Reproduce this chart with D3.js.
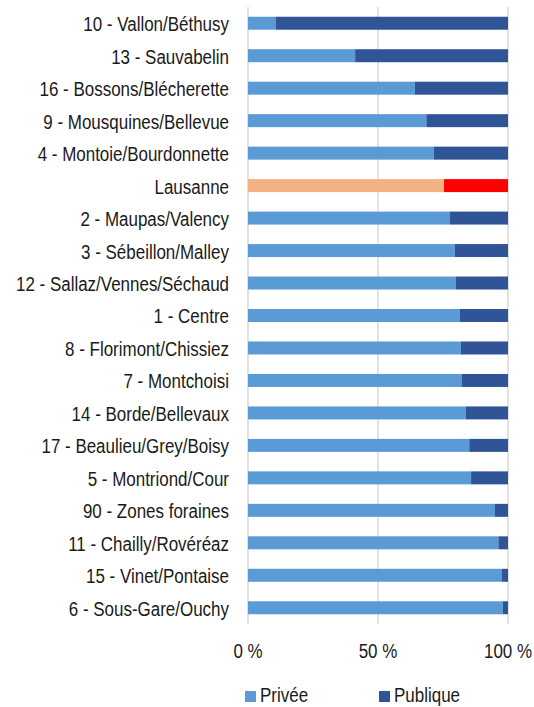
<!DOCTYPE html>
<meta charset="utf-8">
<style>
body { margin: 0; background: #fff; }
text { font-family: "Liberation Sans", Arial, sans-serif; fill: #1a1a1a; font-size: 19.5px; }
</style>
<svg width="534" height="707"></svg>
<script src="https://d3js.org/d3.v7.min.js"></script>
<script>

// quartiers, sorted by share of private parking (order as shown)
var quartiers = [
  "10 - Vallon/Béthusy", "13 - Sauvabelin", "16 - Bossons/Blécherette",
  "9 - Mousquines/Bellevue", "4 - Montoie/Bourdonnette", "Lausanne",
  "2 - Maupas/Valency", "3 - Sébeillon/Malley", "12 - Sallaz/Vennes/Séchaud",
  "1 - Centre", "8 - Florimont/Chissiez", "7 - Montchoisi",
  "14 - Borde/Bellevaux", "17 - Beaulieu/Grey/Boisy", "5 - Montriond/Cour",
  "90 - Zones foraines", "11 - Chailly/Rovéréaz", "15 - Vinet/Pontaise",
  "6 - Sous-Gare/Ouchy"
];
// share (%) privée
var privee = [10.6, 41.2, 64.2, 68.6, 71.5, 75.4, 77.7, 79.5, 80.0, 81.5,
              81.9, 82.3, 83.8, 85.1, 85.8, 95.0, 96.3, 97.7, 98.0];
var publique = privee.map(function(v) { return 100 - v; });
var ticks = [0, 50, 100];
var series = ["Privée", "Publique"];

var colors = {"Privée": "#5B9BD5", "Publique": "#2F5597"};
var highlight = {"Privée": "#F4B183", "Publique": "#FF0000"};

var sx = 0.87; // text looks horizontally squeezed in the original

var svg = d3.select("svg"),
    margin = {top: 7, right: 26, bottom: 83, left: 248},
    width = +svg.attr("width") - margin.left - margin.right,
    height = +svg.attr("height") - margin.top - margin.bottom,
    g = svg.append("g").attr("transform", "translate(" + margin.left + "," + margin.top + ")");

var x = d3.scaleLinear().domain([0, 100]).range([0, width]);
var y = d3.scaleBand().domain(quartiers).range([0, height]).paddingInner(0.6).paddingOuter(0.3);

// gridlines
g.selectAll(".grid")
  .data(ticks)
  .enter().append("line")
    .attr("x1", function(d) { return x(d); })
    .attr("x2", function(d) { return x(d); })
    .attr("y1", 0)
    .attr("y2", height)
    .attr("stroke", "#d9d9d9")
    .attr("stroke-width", 1.5);

var rows = quartiers.map(function(q, i) {
  return {name: q, "Privée": privee[i], "Publique": publique[i]};
});
var stack = d3.stack().keys(series)(rows);

g.selectAll(".serie")
  .data(stack)
  .enter().append("g")
  .selectAll("rect")
  .data(function(s) { return s.map(function(d) { d.key = s.key; return d; }); })
  .enter().append("rect")
    .attr("x", function(d) { return x(d[0]); })
    .attr("width", function(d) { return x(d[1]) - x(d[0]); })
    .attr("y", function(d) { return y(d.data.name); })
    .attr("height", y.bandwidth())
    .attr("fill", function(d) { return d.data.name == "Lausanne" ? highlight[d.key] : colors[d.key]; });

// y labels
g.append("g")
  .attr("transform", "translate(-19,0) scale(" + sx + ",1)")
  .selectAll("text")
  .data(quartiers)
  .enter().append("text")
    .attr("x", 0)
    .attr("y", function(d) { return y(d) + y.bandwidth() / 2 + 8; })
    .attr("text-anchor", "end")
    .text(function(d) { return d; });

// x tick labels
g.selectAll(".xlab")
  .data(ticks)
  .enter().append("g")
    .attr("transform", function(d) { return "translate(" + x(d) + "," + (height + 34) + ") scale(" + sx + ",1)"; })
  .append("text")
    .attr("text-anchor", "middle")
    .text(function(d) { return d + " %"; });

// legend
var legend = svg.selectAll(".legend")
  .data(series)
  .enter().append("g")
    .attr("transform", function(d, i) { return "translate(" + (245 + i * 134) + ",691)"; });

legend.append("rect")
  .attr("width", 11).attr("height", 11)
  .attr("fill", function(d) { return colors[d]; });

legend.append("text")
  .attr("transform", "translate(15,11) scale(" + sx + ",1)")
  .text(function(d) { return d; });

</script>
